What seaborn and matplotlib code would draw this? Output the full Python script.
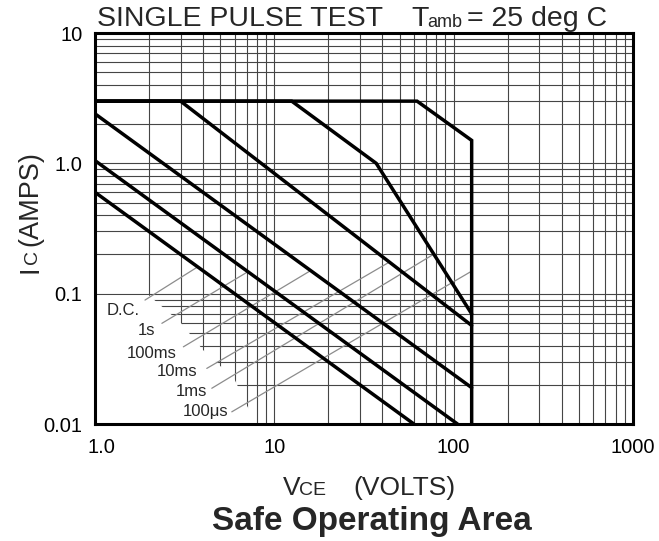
import matplotlib
matplotlib.use("Agg")
import matplotlib.pyplot as plt
import matplotlib.transforms as mtransforms
import seaborn as sns
from matplotlib.ticker import NullFormatter

# curve data (VCE volts, IC amps)
dc_v = [1.0, 60.0]
dc_i = [0.6, 0.01]
s1_v = [1.0, 105.0]
s1_i = [1.05, 0.01]
ms100_v = [1.0, 126.0]
ms100_i = [2.4, 0.019]
ms10_v = [1.0, 3.0, 126.0]
ms10_i = [3.0, 3.0, 0.057]
ms1_v = [1.0, 12.5, 37.0, 126.0]
ms1_i = [3.0, 3.0, 1.0, 0.07]
us100_v = [1.0, 62.5, 126.0, 126.0]
us100_i = [3.0, 3.0, 1.5, 0.01]

curve_names = ["D.C.", "1s", "100ms", "10ms", "1ms", "100\u03bcs"]
curves = [(dc_v, dc_i), (s1_v, s1_i), (ms100_v, ms100_i),
          (ms10_v, ms10_i), (ms1_v, ms1_i), (us100_v, us100_i)]

x_ticks = [1, 10, 100, 1000]
x_ticklabels = ["1.0", "10", "100", "1000"]
y_ticks = [0.01, 0.1, 1, 10]
y_ticklabels = ["0.01", "0.1", "1.0", "10"]

sns.set_theme(style="white")
plt.rcParams["font.family"] = ["Liberation Sans", "DejaVu Sans"]

W, H = 659, 541
fig = plt.figure(figsize=(W / 100, H / 100), dpi=100)
fig.patch.set_facecolor("white")
ax = fig.add_axes([95 / W, 1 - 424 / H, 538 / W, 391 / H])
ax.set_xscale("log")
ax.set_yscale("log")
ax.set_xlim(1, 1000)
ax.set_ylim(0.01, 10)

ax.set_axisbelow(True)
ax.grid(True, which="both", color="#454545", lw=0.8)

# white patch behind the curve labels (grid is cut away there)
mask_v = [1.0, 2.0, 3.0, 4.0, 6.0, 7.0, 8.0, 1.0]
mask_i = [0.097, 0.097, 0.06, 0.037, 0.022, 0.014, 0.01, 0.01]
ax.fill(mask_v, mask_i, color="white", zorder=1, lw=0)

for v, i in curves:
    sns.lineplot(x=v, y=i, ax=ax, color="black", lw=2.5, sort=False,
                 estimator=None, zorder=3, solid_joinstyle="miter")

# labels with thin leader lines
label_xy = [(1.44, 0.0748), (1.94, 0.0526), (2.07, 0.0348),
            (2.86, 0.0252), (3.46, 0.0177), (4.11, 0.0124)]
lead_from = [(1.90, 0.0893), (2.36, 0.0592), (3.11, 0.0391),
             (4.20, 0.0267), (4.48, 0.0188), (5.79, 0.0124)]
lead_to = [(3.75, 0.161), (7.10, 0.147), (15.9, 0.150),
           (44.2, 0.176), (77.0, 0.200), (124.0, 0.147)]
for name, (tx, ty), (x0, y0), (x1, y1) in zip(curve_names, label_xy, lead_from, lead_to):
    ax.plot([x0, x1], [y0, y1], color="#8c8c8c", lw=0.9, zorder=2)
    ax.text(tx, ty, name, fontsize=12, ha="center", va="center", zorder=4)

ax.set_xticks(x_ticks)
ax.set_xticklabels(x_ticklabels)
ax.set_yticks(y_ticks)
ax.set_yticklabels(y_ticklabels)
ax.xaxis.set_minor_formatter(NullFormatter())
ax.yaxis.set_minor_formatter(NullFormatter())
ax.tick_params(which="both", length=0, labelsize=14.5, colors="black")
ax.tick_params(axis="x", pad=10)
ax.tick_params(axis="y", pad=9)
# first x label sits a little right of the corner
first = ax.get_xticklabels()[0]
first.set_transform(first.get_transform() +
                    mtransforms.ScaledTranslation(6 / 100, 0, fig.dpi_scale_trans))
for sp in ax.spines.values():
    sp.set_color("black")
    sp.set_linewidth(2.2)

def fx(px):
    return px / W

def fy(py):
    return 1 - py / H

# header
fig.text(fx(97), fy(26), "SINGLE PULSE TEST", fontsize=20.5, va="baseline")
fig.text(fx(411), fy(26), "T", fontsize=20.5, va="baseline")
fig.text(fx(427), fy(27), "amb", fontsize=13, va="baseline")
fig.text(fx(467), fy(26), "= 25 deg C", fontsize=20.5, va="baseline")

# x label
fig.text(fx(283), fy(495), "V", fontsize=19, va="baseline")
fig.text(fx(299), fy(495), "CE", fontsize=14, va="baseline")
fig.text(fx(353), fy(495), "(VOLTS)", fontsize=19, va="baseline")

# y label (rotated)
fig.text(fx(37), fy(273), "I", fontsize=19.5, rotation=90,
         rotation_mode="anchor", ha="left", va="baseline")
fig.text(fx(37), fy(264), "C", fontsize=14, rotation=90,
         rotation_mode="anchor", ha="left", va="baseline")
fig.text(fx(37), fy(246), "(AMPS)", fontsize=19.5, rotation=90,
         rotation_mode="anchor", ha="left", va="baseline")

# title
fig.text(fx(372), fy(530), "Safe Operating Area", fontsize=24,
         fontweight="bold", ha="center", va="baseline")

fig.savefig("out.png", dpi=100, facecolor="white")
